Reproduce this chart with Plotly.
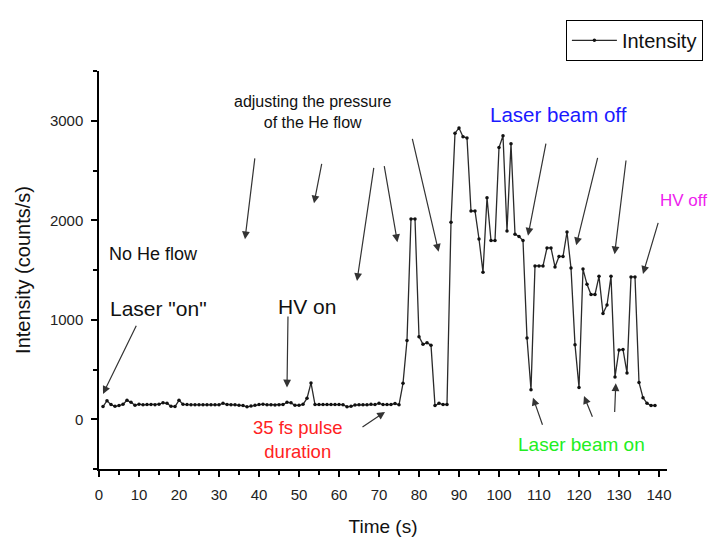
import plotly.graph_objects as go

# Time (s) and intensity (counts/s)
time_s = list(range(1, 140))
baseline = [128, 186, 147, 130, 138, 150, 190, 170, 140, 152, 145, 147, 147, 146, 152, 165, 160, 130, 128, 190,
            150, 147, 146, 145, 145, 145, 145, 145, 146, 145, 160, 148, 146, 145, 140, 138, 125, 132, 140, 148,
            152, 145, 145, 142, 145, 148, 170, 165, 140, 140, 150, 210, 365, 147, 147, 147, 147, 147, 147, 147,
            146, 125, 130, 143, 145, 145, 145, 150, 147, 160, 147, 147, 147, 158, 145]
rise = [361, 791, 2013, 2013, 830, 753, 769, 744, 137, 160, 148, 148, 1981, 2875, 2928, 2840, 2827, 2093, 2093,
        1812, 1477, 2227, 1796, 1796, 2731, 2849, 1892, 2769, 1860, 1837, 1796, 817, 297, 1541, 1541, 1541, 1722,
        1722, 1531, 1636, 1636, 1882, 1519, 750, 320, 1509, 1356, 1254, 1254, 1436, 1062, 1148, 1436, 425, 696,
        702, 466, 1430, 1430, 370, 217, 160, 138, 138]
intensity = baseline + rise

x_ticks = list(range(0, 141, 10))
y_ticks = [0, 1000, 2000, 3000]

FONT = "Arial, Liberation Sans, sans-serif"

fig = go.Figure()
fig.add_trace(go.Scatter(
    x=time_s, y=intensity, mode="lines+markers", name="Intensity",
    line=dict(color="#2a2a2a", width=1.3),
    marker=dict(color="#111111", size=3.5),
))

# arrows: (head_x, head_y, tail_x, tail_y)
arrows = [
    (1.0, 255, 9.5, 954),
    (36.5, 1810, 39, 2637),
    (53.75, 2170, 55.75, 2581),
    (64.5, 1390, 68.75, 2542),
    (74.6, 1780, 71.25, 2560),
    (84.9, 1684, 78.25, 2833),
    (47, 320, 47.25, 1048),
    (71.5, 74, 65.5, -89),
    (107.25, 1844, 111.8, 2785),
    (119.3, 1748, 124.75, 2641),
    (128.9, 1659, 131.8, 2616),
    (136, 1461, 139.9, 1988),
    (108.5, 217, 111, -70),
    (121.25, 233, 123.5, 10),
    (129.2, 361, 128.9, 57),
]
for hx, hy, tx, ty in arrows:
    fig.add_annotation(x=hx, y=hy, ax=tx, ay=ty, xref="x", yref="y", axref="x", ayref="y",
                       text="", showarrow=True, arrowhead=2, arrowsize=1.3, arrowwidth=1.2,
                       arrowcolor="#333333", standoff=0)

labels = [
    ("Laser \"on\"", 14.8, 1110, "#111111", 21),
    ("No He flow", 13.6, 1660, "#111111", 18),
    ("adjusting the pressure<br>of the He flow", 53.5, 3088, "#111111", 16),
    ("Laser beam off", 114.9, 3060, "#1a1aff", 20.5),
    ("HV on", 51.9, 1130, "#111111", 21),
    ("35 fs pulse<br>duration", 49.5, -200, "#ff2222", 18.5),
    ("Laser beam on", 120.5, -250, "#22ee22", 19),
]
for txt, x, y, c, s in labels:
    fig.add_annotation(x=x, y=y, xref="x", yref="y", text=txt, showarrow=False,
                       font=dict(family=FONT, size=s, color=c), align="center")

fig.add_annotation(x=0.984, y=0.675, xref="paper", yref="paper", xanchor="left", yanchor="middle",
                   text="HV off", showarrow=False, font=dict(family=FONT, size=17, color="#ee22ee"))

axis_common = dict(showline=True, linecolor="black", linewidth=1.5, ticks="outside",
                   tickcolor="black", tickwidth=1.5, ticklen=6, showgrid=False, zeroline=False,
                   mirror=False, tickfont=dict(family=FONT, size=15, color="#222222"),
                   ticklabelstandoff=5)
fig.update_xaxes(range=[0, 142], tickvals=x_ticks,
                 minor=dict(dtick=5, tick0=0, ticks="outside", ticklen=4, tickcolor="black", tickwidth=1.5),
                 title=dict(text="Time (s)", font=dict(family=FONT, size=19, color="#111111"), standoff=18),
                 **axis_common)
fig.update_yaxes(range=[-500, 3500], tickvals=y_ticks,
                 minor=dict(dtick=500, tick0=0, ticks="outside", ticklen=4, tickcolor="black", tickwidth=1.5),
                 title=dict(text="Intensity (counts/s)", font=dict(family=FONT, size=20, color="#111111"), standoff=14),
                 **axis_common)

fig.update_layout(
    width=717, height=538,
    margin=dict(l=91, r=58, t=57, b=63),
    plot_bgcolor="white", paper_bgcolor="white",
    showlegend=True,
    legend=dict(x=0.822, y=1.077, xanchor="left", yanchor="middle", itemwidth=45,
                bordercolor="black", borderwidth=1, bgcolor="white",
                font=dict(family=FONT, size=20, color="#111111")),
)

fig.write_html("out.html")
